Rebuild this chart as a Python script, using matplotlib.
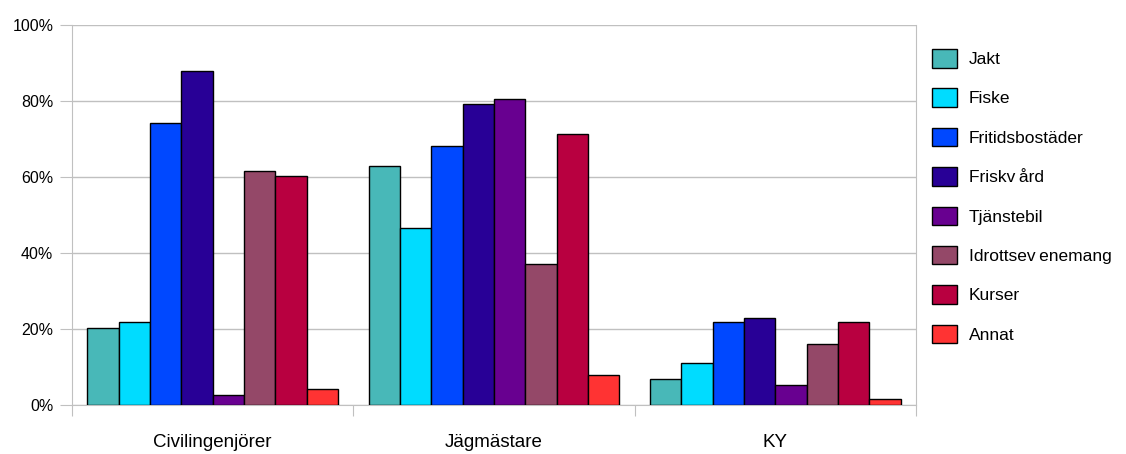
import matplotlib
matplotlib.use("Agg")
import matplotlib.pyplot as plt
import numpy as np

plt.rcParams['font.family'] = ['Liberation Sans', 'DejaVu Sans']

# utbildningsgrupper och förmåner
groups = ['Civilingenjörer', 'Jägmästare', 'KY']
series = ['Jakt', 'Fiske', 'Fritidsbostäder', 'Friskv\u2009ård', 'Tjänstebil',
          'Idrottsev\u2009enemang', 'Kurser', 'Annat']

# andel (%) per grupp, samma ordning som groups
jakt = [20.3, 62.9, 6.8]
fiske = [21.9, 46.7, 11.0]
fritidsbostader = [74.3, 68.1, 21.9]
friskvard = [88.0, 79.1, 23.0]
tjanstebil = [2.6, 80.6, 5.2]
idrottsevenemang = [61.7, 37.2, 16.1]
kurser = [60.3, 71.2, 21.9]
annat = [4.2, 7.9, 1.5]

values = [jakt, fiske, fritidsbostader, friskvard, tjanstebil,
          idrottsevenemang, kurser, annat]
colors = ['#48B8B8', '#00DCFF', '#0048FF', '#280096', '#680090',
          '#944868', '#B80040', '#FF3333']

fig = plt.figure(figsize=(11.26, 4.54), dpi=100)
ax = fig.add_axes([72/1126, 1-405/454, (916-72)/1126, 380/454])

x = np.arange(len(groups))
w = 0.1114
n = len(series)
for i, (name, vals, c) in enumerate(zip(series, values, colors)):
    ax.bar(x + (i - (n-1)/2) * w, vals, width=w, color=c, edgecolor='black',
           linewidth=1, label=name, zorder=3)

ax.set_xlim(-0.5, 2.5)
ax.set_ylim(0, 100)
ax.set_yticks([0, 20, 40, 60, 80, 100])
ax.set_yticklabels(['0%', '20%', '40%', '60%', '80%', '100%'], fontsize=11.5)
ax.yaxis.grid(True, color='#C0C0C0', linewidth=1)
ax.tick_params(axis='y', length=8.5, color='#C0C0C0', pad=5)

ax.set_xticks([-0.5, 0.5, 1.5, 2.5])
ax.set_xticklabels([])
ax.set_xticks(x, minor=True)
ax.set_xticklabels(groups, minor=True, fontsize=13.5)
ax.tick_params(axis='x', which='major', length=8, color='#C0C0C0')
ax.tick_params(axis='x', which='minor', length=0, pad=21)

for s in ['left', 'right', 'bottom']:
    ax.spines[s].set_color('#C0C0C0')
ax.spines['top'].set_visible(False)

fig.legend(loc='upper left', bbox_to_anchor=(932/1126, 1-49/454),
           frameon=False, fontsize=12.5, borderpad=0, borderaxespad=0,
           handlelength=1.44, handleheight=1.267, labelspacing=1.2,
           handletextpad=0.69)

fig.savefig('out.png', dpi=100)
